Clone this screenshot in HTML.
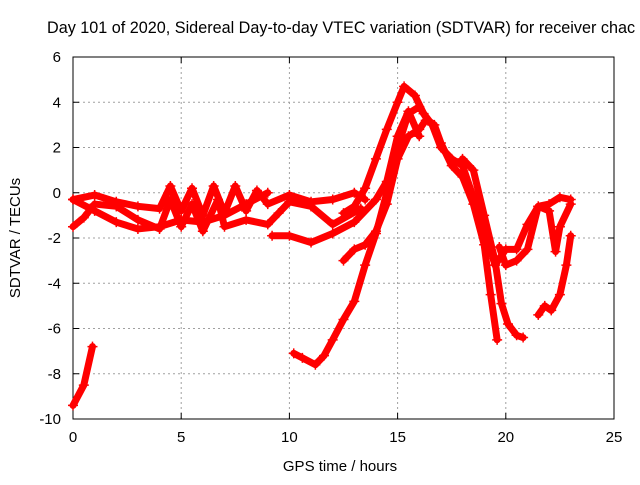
<!DOCTYPE html>
<html><head><meta charset="utf-8"><style>
body{margin:0;background:#fff;overflow:hidden;}
svg text{font-family:"Liberation Sans",sans-serif;font-size:15px;fill:#000;}
</style></head><body>
<svg width="640" height="480">
<text x="47" y="33" style="font-size:16.2px">Day 101 of 2020, Sidereal Day-to-day VTEC variation (SDTVAR) for receiver chac</text>
<g id="grid"></g>
<g id="axes"></g>
<g id="series"></g>
<text x="340" y="471" text-anchor="middle">GPS time / hours</text>
<text transform="translate(20,238) rotate(-90)" text-anchor="middle">SDTVAR / TECUs</text>
</svg>
<script>
const xTicks=[0,5,10,15,20,25];
const yTicks=[-10,-8,-6,-4,-2,0,2,4,6];
const s1=[[0,-9.4],[0.5,-8.5],[0.9,-6.8]];
const s2=[[0,-0.3],[1,-0.1],[2,-0.4],[3,-0.6],[4,-0.7],[4.5,0.3],[5,-0.8],[5.5,0.2],[6,-1],[6.5,0.3],[7,-0.9],[7.5,0.3],[8,-0.8],[8.5,0.1],[9,-0.5],[10,-0.1],[11,-0.4],[12,-0.3],[13,0],[13.5,-0.3]];
const s3=[[0,-1.5],[0.5,-1.1],[1,-0.5],[2,-0.6],[3,-1.2],[4,-1.6],[4.5,-0.3],[5,-1.5],[5.5,-0.5],[6,-1.7],[6.7,-0.3],[7,-1.5],[8,-1.2],[9,-1.4],[9.5,-0.9],[10,-0.4],[11,-0.6],[12,-1.4],[13.3,-0.7]];
const s4=[[0,-0.3],[1,-0.8],[2,-1.3],[3,-1.6],[4,-1.5],[5,-1.2],[6,-1.3],[7,-1.0],[8,-0.5],[9,0]];
const s5=[[9.2,-1.9],[10,-1.9],[11,-2.2],[12,-1.8],[13,-1.3],[14,-0.3],[14.5,0.5],[15,2.5],[15.5,3.6],[16,2.5]];
const s6=[[12.5,-0.9],[13,-0.6],[13.5,0.2],[14,1.5],[14.5,2.8],[15,4.0],[15.3,4.7],[15.8,4.3],[16.2,3.5],[16.6,3.0],[17,2.0],[17.5,1.5],[18,1.2],[18.5,-0.2],[19,-1.5],[19.5,-3.2],[20,-2.5],[20.5,-2.5],[21,-1.4],[21.5,-0.6],[22,-0.5],[22.5,-0.2],[23,-0.3]];
const s7=[[12.5,-3.0],[13,-2.5],[13.5,-2.3],[14,-1.7],[14.5,-0.5],[15,1.5],[15.5,2.5],[16,2.8],[16.3,3.2]];
const s8=[[10.2,-7.1],[10.6,-7.3],[11.2,-7.6],[11.6,-7.2],[12,-6.5],[12.5,-5.6],[13,-4.8],[13.5,-3.2],[14,-1.8],[14.5,0],[15,2],[15.5,3.5],[16,3.8],[16.4,3.2],[16.7,3],[17,2.2],[17.5,1.2],[18,0.7],[18.5,-0.5],[19,-2.3],[19.3,-4.5],[19.6,-6.5]];
const s9=[[18,1.5],[18.5,1.0],[19,-1],[19.5,-3],[19.8,-4.9],[20.1,-5.8],[20.5,-6.3],[20.8,-6.4]];
const s10=[[19.7,-2.4],[20,-3.2],[20.5,-3.0],[21,-2.5],[21.5,-0.6],[22,-0.8],[22.3,-2.6],[22.5,-1.5],[23,-0.5]];
const s11=[[21.5,-5.4],[21.8,-5.0],[22.1,-5.2],[22.5,-4.5],[22.8,-3.2],[23,-1.9]];
const allSeries=[s1,s2,s3,s4,s5,s6,s7,s8,s9,s10,s11];
const X0=73,X1=614,Y0=419,Y1=57;
const xs=h=>X0+(h-0)/(25-0)*(X1-X0);
const ys=v=>Y0-(v+10)/16*(Y0-Y1);
const NS="http://www.w3.org/2000/svg";
function mk(tag,attrs,parent){const e=document.createElementNS(NS,tag);for(const k in attrs)e.setAttribute(k,attrs[k]);parent.appendChild(e);return e;}
const grid=document.getElementById('grid'),axes=document.getElementById('axes'),ser=document.getElementById('series');
xTicks.forEach(t=>{const x=xs(t);
 if(t>0&&t<25){const l=mk('line',{x1:x,y1:Y1,x2:x,y2:Y0,stroke:'#a0a0a0','stroke-dasharray':'2,3'},grid);
 
 }
 const tx=mk('text',{x:x,y:Y0+23,'text-anchor':'middle'},axes);tx.textContent=t;
 
 
 mk('line',{x1:x,y1:Y0,x2:x,y2:Y0-6,stroke:'#000'},axes);
 mk('line',{x1:x,y1:Y1,x2:x,y2:Y1+6,stroke:'#000'},axes);
});
yTicks.forEach(t=>{const y=ys(t);
 if(t>-10&&t<6){const l=mk('line',{x1:X0,y1:y,x2:X1,y2:y,stroke:'#a0a0a0','stroke-dasharray':'2,3'},grid);
 
 }
 const tx=mk('text',{x:X0-12,y:y+5,'text-anchor':'end'},axes);tx.textContent=t;
 
 
 mk('line',{x1:X0,y1:y,x2:X0+6,y2:y,stroke:'#000'},axes);
 mk('line',{x1:X1,y1:y,x2:X1-6,y2:y,stroke:'#000'},axes);
});
const fr=mk('rect',{x:X0,y:Y1,width:X1-X0,height:Y0-Y1,fill:'none',stroke:'#000'},axes);


allSeries.forEach((s,i)=>{
 const p=mk('polyline',{points:s.map(d=>xs(d[0])+','+ys(d[1])).join(' '),fill:'none',stroke:'#ff0000','stroke-width':7,'stroke-linejoin':'round','stroke-linecap':'round'},ser);
 
 
 s.forEach(d=>{const x=xs(d[0]),y=ys(d[1]);
  const m=mk('path',{d:`M${x-5},${y}H${x+5}M${x},${y-5}V${y+5}`,stroke:'#ff0000','stroke-width':1.5},ser);
  
  
 });
});
</script>
</body></html>
